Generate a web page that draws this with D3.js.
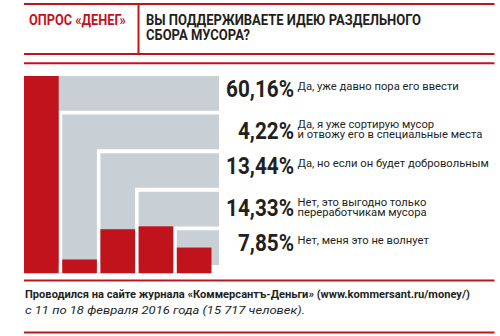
<!DOCTYPE html>
<html><head><meta charset="utf-8">
<script src="https://cdn.jsdelivr.net/npm/d3@7"></script>
<style>
html,body{margin:0;padding:0;background:#fff;}
svg{display:block;}
text{font-family:Roboto,"Noto Sans",sans-serif;}
</style></head>
<body>
<script>
// ---- data ----
const headerLabel = "ОПРОС «ДЕНЕГ»";
const titleLines = ["ВЫ ПОДДЕРЖИВАЕТЕ ИДЕЮ РАЗДЕЛЬНОГО", "СБОРА МУСОРА?"];
const categories = [
  ["Да, уже давно пора его ввести"],
  ["Да, я уже сортирую мусор", "и отвожу его в специальные места"],
  ["Да, но если он будет добровольным"],
  ["Нет, это выгодно только", "переработчикам мусора"],
  ["Нет, меня это не волнует"]
];
const values = [60.16, 4.22, 13.44, 14.33, 7.85];
const footerLines = [
  "Проводился на сайте журнала «Коммерсантъ-Деньги» (www.kommersant.ru/money/)",
  "с 11 по 18 февраля 2016 года (15 717 человек)."
];

// ---- layout ----
const W = 500, H = 336;
const RED = "#c0131c", GRAY = "#c9d0d5", DARK = "#231f20";
const svg = d3.select("body").append("svg").attr("width", W).attr("height", H);

const idx = d3.range(values.length);
const col = d3.scaleBand().domain(idx).range([24, 211.5]).paddingInner(0.092).paddingOuter(0);
const row = d3.scaleBand().domain(idx).range([76, 265]).paddingInner(0.1).paddingOuter(0);
const y = d3.scaleLinear().domain([0, d3.max(values)]).range([273.3, 76]);
const grayRight = 219, grayBottom = 265;

function ctext(g, x, yy, k, anchor) {
  return g.append("text")
    .attr("transform", `translate(${x},${yy}) scale(${k},1)`)
    .attr("text-anchor", anchor || "start");
}

// rules
const rules = svg.append("g").attr("stroke", RED).attr("stroke-width", 2);
[4, 54, 63.3, 280.5, 332.5].forEach(v =>
  rules.append("line").attr("x1", 24).attr("x2", 494.5).attr("y1", v).attr("y2", v));
rules.append("line").attr("x1", 138.5).attr("x2", 138.5).attr("y1", 4).attr("y2", 54);

// header texts
ctext(svg, 29, 25, 0.91).text(headerLabel)
  .attr("font-size", 14).attr("font-weight", 700).attr("fill", RED);
titleLines.forEach((t, i) =>
  ctext(svg, 146, 25 + i * 15, 0.93).text(t)
    .attr("font-size", 14).attr("font-weight", 700).attr("fill", DARK));

// gray L shapes
svg.append("g").selectAll("path").data(idx).join("path")
  .attr("fill", GRAY)
  .attr("d", i => {
    const x0 = col(i), x1 = col(i) + col.bandwidth();
    const y0 = row(i), y1 = row(i) + row.bandwidth();
    return `M${x0},${y0}H${grayRight}V${y1}H${x1}V${grayBottom}H${x0}Z`;
  });

// red bars
svg.append("g").selectAll("rect").data(values).join("rect")
  .attr("fill", RED)
  .attr("x", (d, i) => col(i))
  .attr("width", col.bandwidth())
  .attr("y", d => y(d))
  .attr("height", d => y(0) - y(d));

// labels
const fmt = d => d3.format(".2f")(d).replace(".", ",") + "%";
const lab = svg.append("g");
values.forEach((v, i) => {
  const lines = categories[i];
  const c = row(i) + row.bandwidth() / 2;
  const base = lines.length > 1 ? c + 7 : c + 3.5;
  ctext(lab, 294, base, 0.9, "end").text(fmt(v))
    .attr("font-size", 23).attr("font-weight", 700).attr("fill", DARK);
  lines.forEach((t, j) => {
    const by = lines.length > 1 ? base - 0.5 - 10 * (lines.length - 1 - j) : base - 7.3;
    ctext(lab, 297.5, by, 1.02).text(t)
      .attr("font-size", 11).attr("fill", DARK);
  });
});

// footer
ctext(svg, 25, 297.5, 1.01).text(footerLines[0])
  .attr("font-size", 11).attr("font-weight", 700).attr("fill", DARK);
ctext(svg, 25, 313.5, 1.13).text(footerLines[1])
  .attr("font-size", 11.5).attr("font-style", "italic").attr("fill", DARK);
</script>
</body></html>
